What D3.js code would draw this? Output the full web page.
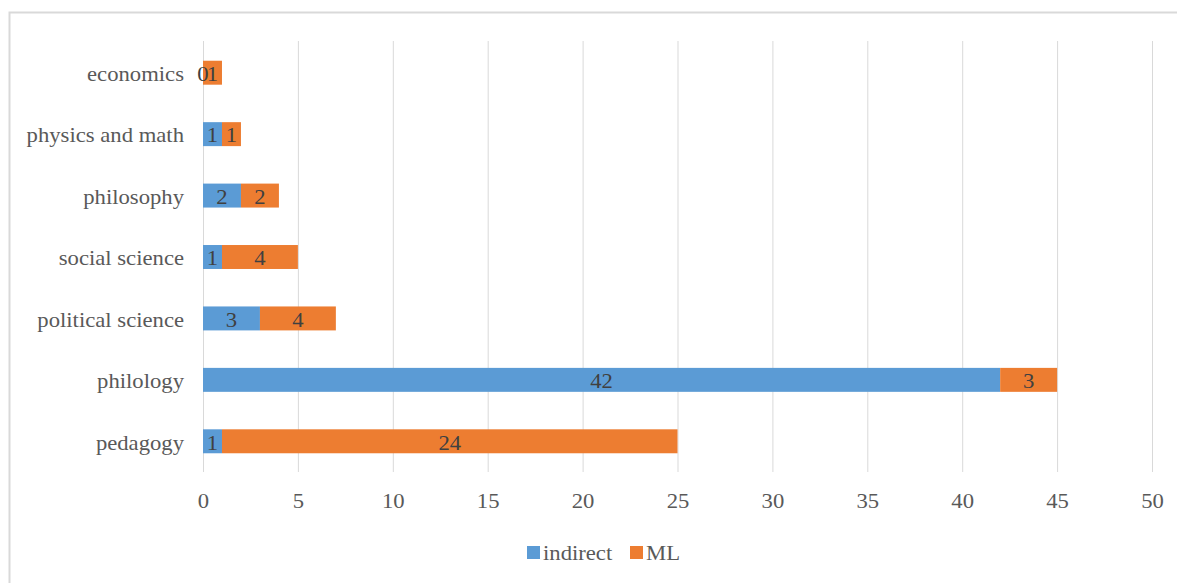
<!DOCTYPE html>
<html>
<head>
<meta charset="utf-8">
<script src="https://cdn.jsdelivr.net/npm/d3@7"></script>
<style>
  html, body { margin: 0; padding: 0; background: #fff; }
  svg { display: block; }
</style>
</head>
<body>
<svg id="chart" width="1177" height="583"></svg>
<script>
// Fields of study, listed bottom to top as drawn
const categories = ["pedagogy", "philology", "political science", "social science", "philosophy", "physics and math", "economics"];
const indirect = [1, 42, 3, 1, 2, 1, 0];
const ml = [24, 3, 4, 4, 2, 1, 1];
const seriesNames = ["indirect", "ML"];
const xTicks = [0, 5, 10, 15, 20, 25, 30, 35, 40, 45, 50];

const colors = { indirect: "#5b9bd5", ML: "#ed7d31" };
const FONT = "Liberation Serif";
const STRETCH = 1.08;   // slightly wide glyphs
const FS = 21;

const svg = d3.select("#chart");
const W = 1177, H = 583;

// chart area frame (runs off the right and bottom edges)
svg.append("rect")
  .attr("x", 9.5).attr("y", 12.5)
  .attr("width", W + 20).attr("height", H + 20)
  .attr("fill", "#fff").attr("stroke", "#d9d9d9").attr("stroke-width", 2);

const plot = { left: 203, right: 1152, top: 42, bottom: 472 };

const x = d3.scaleLinear().domain([0, 50]).range([plot.left, plot.right]);
const y = d3.scaleBand()
  .domain(categories.slice().reverse())
  .range([plot.top, plot.bottom])
  .paddingInner(0.61).paddingOuter(0.305);

// place a text node at (px, py) with a horizontal stretch
function placeText(sel, px, py) {
  sel.attr("x", 0).attr("y", 0)
    .attr("font-family", FONT)
    .attr("transform", function (d, i) {
      return `translate(${px(d, i)},${py(d, i)}) scale(${STRETCH},1)`;
    });
}

// vertical gridlines
svg.append("g").selectAll("line").data(xTicks).join("line")
  .attr("x1", d => x(d) + 0.5).attr("x2", d => x(d) + 0.5)
  .attr("y1", plot.top - 1).attr("y2", plot.bottom)
  .attr("stroke", "#d9d9d9").attr("stroke-width", 1);

// x axis tick labels
const xAxis = d3.axisBottom(x).tickValues(xTicks).tickSize(0).tickPadding(0);
const gx = svg.append("g").attr("transform", `translate(0,${plot.bottom})`).call(xAxis)
  .attr("font-family", FONT);
gx.select(".domain").remove();
gx.selectAll(".tick text")
  .attr("dy", "0.35em")
  .attr("font-size", FS).attr("fill", "#595959")
  .call(placeText, () => 0, () => 29);

// y axis category labels
const yAxis = d3.axisLeft(y).tickSize(0).tickPadding(0);
const gy = svg.append("g").attr("transform", `translate(${plot.left},0)`).call(yAxis)
  .attr("font-family", FONT);
gy.select(".domain").remove();
gy.selectAll(".tick text")
  .attr("dy", "0.35em")
  .attr("font-size", FS).attr("fill", "#595959")
  .call(placeText, () => -19, () => 1);

// stacked segments
const rows = categories.map((c, i) => ({ cat: c, indirect: indirect[i], ML: ml[i] }));
const stack = d3.stack().keys(seriesNames)(rows);

const layers = svg.append("g").selectAll("g").data(stack).join("g")
  .attr("fill", d => colors[d.key]);

layers.selectAll("rect").data(d => d).join("rect")
  .attr("x", d => x(d[0]))
  .attr("y", d => y(d.data.cat))
  .attr("width", d => x(d[1]) - x(d[0]))
  .attr("height", y.bandwidth());

// value labels centred on each segment
const labels = svg.append("g");
stack.forEach(layer => {
  labels.selectAll(null).data(layer).join("text")
    .attr("dy", "0.35em")
    .attr("text-anchor", "middle")
    .attr("font-size", FS).attr("fill", "#404040")
    .text(d => d.data[layer.key])
    .call(placeText,
      d => (x(d[0]) + x(d[1])) / 2,
      d => y(d.data.cat) + y.bandwidth() / 2 + 1);
});

// legend
const legendItems = [
  { key: "indirect", dx: 527 },
  { key: "ML", dx: 630 }
];
const li = svg.append("g").selectAll("g").data(legendItems).join("g")
  .attr("transform", d => `translate(${d.dx},553)`);
li.append("rect")
  .attr("x", 0).attr("y", -7).attr("width", 13).attr("height", 13)
  .attr("fill", d => colors[d.key]);
li.append("text")
  .attr("dy", "0.35em")
  .attr("font-size", FS).attr("fill", "#595959")
  .text(d => d.key)
  .call(placeText, () => 16, () => 0);
</script>
</body>
</html>
